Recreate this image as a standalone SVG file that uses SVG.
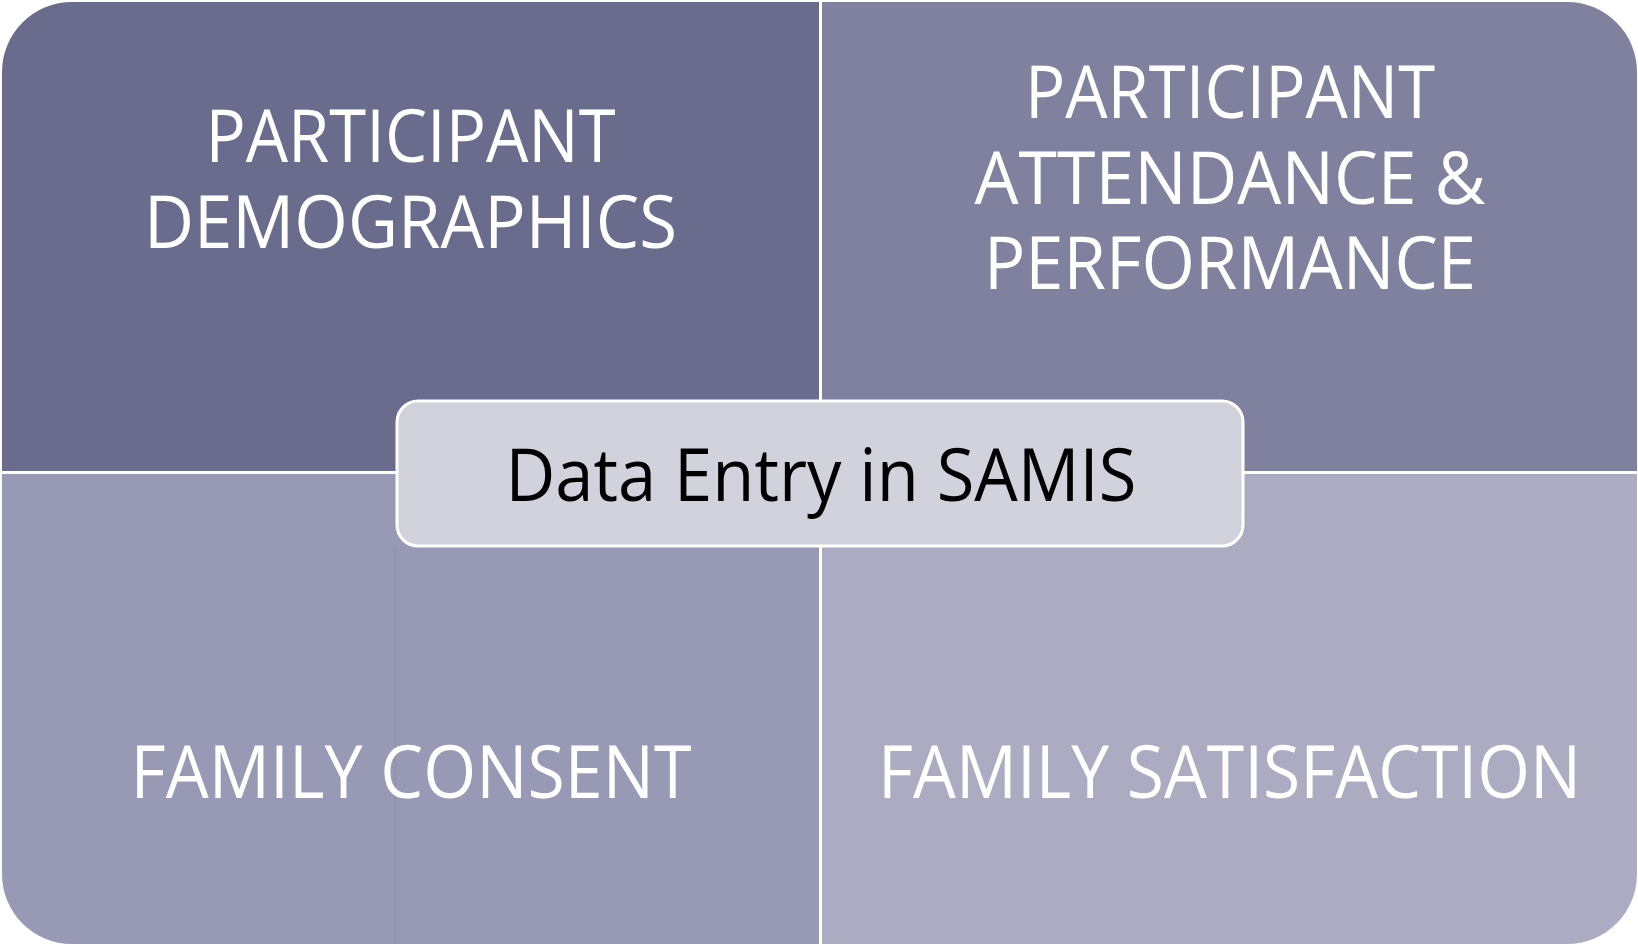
<svg xmlns="http://www.w3.org/2000/svg" width="1638" height="947" viewBox="0 0 1638 947">
  <style>
    .q-text { font-family: "Open Sans", "Noto Sans", "Liberation Sans", sans-serif; font-size: 73px; fill: #ffffff; text-anchor: middle; }
    .c-text { font-family: "Open Sans", "Noto Sans", "Liberation Sans", sans-serif; font-size: 73px; fill: #000000; text-anchor: middle; }
    .hub { fill: #D1D2DB; stroke: #ffffff; stroke-width: 3; }
  </style>
  <rect width="1638" height="947" fill="#ffffff"/>

  <!-- top-left quadrant -->
  <g id="participant-demographics">
    <path d="M2,72 A70,70 0 0 1 72,2 H819 V471 H2 Z" fill="#6A6C8E"/>
    <text class="q-text" x="410.5" y="162" textLength="410" lengthAdjust="spacingAndGlyphs">PARTICIPANT</text>
    <text class="q-text" x="410.5" y="248" textLength="533" lengthAdjust="spacingAndGlyphs">DEMOGRAPHICS</text>
  </g>

  <!-- top-right quadrant -->
  <g id="participant-attendance-performance">
    <path d="M822,2 H1567 A70,70 0 0 1 1637,72 V471 H822 Z" fill="#80819E"/>
    <text class="q-text" x="1230" y="118" textLength="410" lengthAdjust="spacingAndGlyphs">PARTICIPANT</text>
    <text class="q-text" x="1230" y="204" textLength="511" lengthAdjust="spacingAndGlyphs">ATTENDANCE &amp;</text>
    <text class="q-text" x="1230" y="289" textLength="492" lengthAdjust="spacingAndGlyphs">PERFORMANCE</text>
  </g>

  <!-- bottom-left quadrant -->
  <g id="family-consent">
    <path d="M2,474 H819 V944 H72 A70,70 0 0 1 2,874 Z" fill="#9899B4"/>
    <line x1="395" y1="546" x2="395" y2="944" stroke="#000000" stroke-opacity="0.05" stroke-width="1.5"/>
    <text class="q-text" x="411" y="798" textLength="561" lengthAdjust="spacingAndGlyphs">FAMILY CONSENT</text>
  </g>

  <!-- bottom-right quadrant -->
  <g id="family-satisfaction">
    <path d="M822,474 H1637 V874 A70,70 0 0 1 1567,944 H822 Z" fill="#ABACC1"/>
    <text class="q-text" x="1229.5" y="798" textLength="703" lengthAdjust="spacingAndGlyphs">FAMILY SATISFACTION</text>
  </g>

  <!-- central hub -->
  <g id="data-entry-samis">
    <rect class="hub" x="397" y="401" width="846" height="145" rx="21" ry="21"/>
    <text class="c-text" x="821" y="501" textLength="631" lengthAdjust="spacingAndGlyphs">Data Entry in SAMIS</text>
  </g>
</svg>
